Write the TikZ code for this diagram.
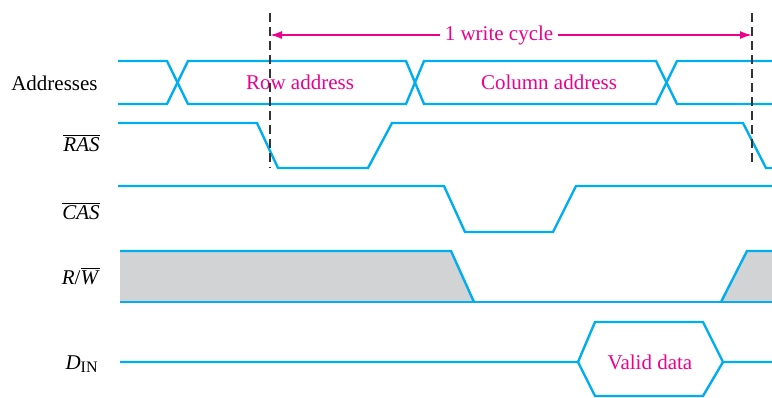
\documentclass[tikz,border=0pt]{standalone}
\usepackage{fontspec}
\setmainfont{Liberation Serif}
\usepackage{xcolor}
\usepackage{tikz}
\usetikzlibrary{positioning, arrows.meta}

\definecolor{wavecyan}{HTML}{00AEEF}
\definecolor{notemag}{HTML}{EC008C}
\definecolor{holdgray}{HTML}{D1D3D4}

\begin{document}
\begin{tikzpicture}[x=0.5pt, y=-0.5pt,
    sig/.style={draw=wavecyan, line width=1.2pt, line join=miter},
    lbl/.style={anchor=east, font=\fontsize{10.5}{12}\selectfont, inner sep=0pt},
    txt/.style={text=notemag, font=\fontsize{10.5}{12}\selectfont, inner sep=2pt},
    guide/.style={draw=black!80, line width=0.65pt, dash pattern=on 4.5pt off 2.5pt}]
        \useasboundingbox (0,0) rectangle (772,397);
        % signal names
        \node (addr) [lbl] at (98,83) {Addresses};
        \node (ras) [lbl] at (100,143) {$\overline{\mbox{\textit{RAS}}}$};
        \node (cas) [lbl] at (100,211) {$\overline{\mbox{\textit{CAS}}}$};
        \node (rw) [lbl] at (100,276) {\textit{R}/$\overline{\mbox{\textit{W}}}$};
        \node (din) [lbl] at (98,364) {\textit{D}\raisebox{-0.35ex}{\fontsize{8}{9}\selectfont IN}};
        % R/W don't-care regions
        \fill [holdgray] (120,251) -- (451,251) -- (474,302) -- (120,302) -- cycle;
        \fill [holdgray] (721,302) -- (747,251) -- (772,251) -- (772,302) -- cycle;
        % waveforms
        \draw [sig] (118,61) -- (167,61) -- (188,104) -- (406,104) -- (424,61) -- (656,61) -- (677,104) -- (772,104);
        \draw [sig] (118,104) -- (167,104) -- (188,61) -- (406,61) -- (424,104) -- (656,104) -- (677,61) -- (772,61);
        \draw [sig] (118,123) -- (257,123) -- (278,168) -- (368,168) -- (392,123) -- (743,123) -- (766,168) -- (772,168);
        \draw [sig] (118,186) -- (444,186) -- (465,232) -- (553,232) -- (576,186) -- (772,186);
        \draw [sig] (120,251) -- (451,251) -- (474,302);
        \draw [sig] (120,302) -- (772,302);
        \draw [sig] (721,302) -- (747,251) -- (772,251);
        \draw [sig] (120,362) -- (578,362) -- (595,322) -- (703,322) -- (723,362) -- (772,362);
        \draw [sig] (578,362) -- (595,396) -- (703,396) -- (723,362);
        % data labels
        \node (row) [txt] at (300,82) {Row address};
        \node (col) [txt] at (549,82) {Column address};
        \node (valid) [txt] at (650,362) {Valid data};
        % cycle marks
        \coordinate (cl) at (270,35);
        \coordinate (cr) at (752,35);
        \draw [guide] (270,13) -- (270,168);
        \draw [guide] (752,13) -- (752,167);
        \node (cyc) [txt] at (499,35) {1 write cycle};
        \draw [notemag, line width=0.9pt, -{Latex[length=6pt, width=4pt]}] (cyc.west) -- (cl);
        \draw [notemag, line width=0.9pt, -{Latex[length=6pt, width=4pt]}] (cyc.east) -- (cr);
    \end{tikzpicture}
\end{document}
